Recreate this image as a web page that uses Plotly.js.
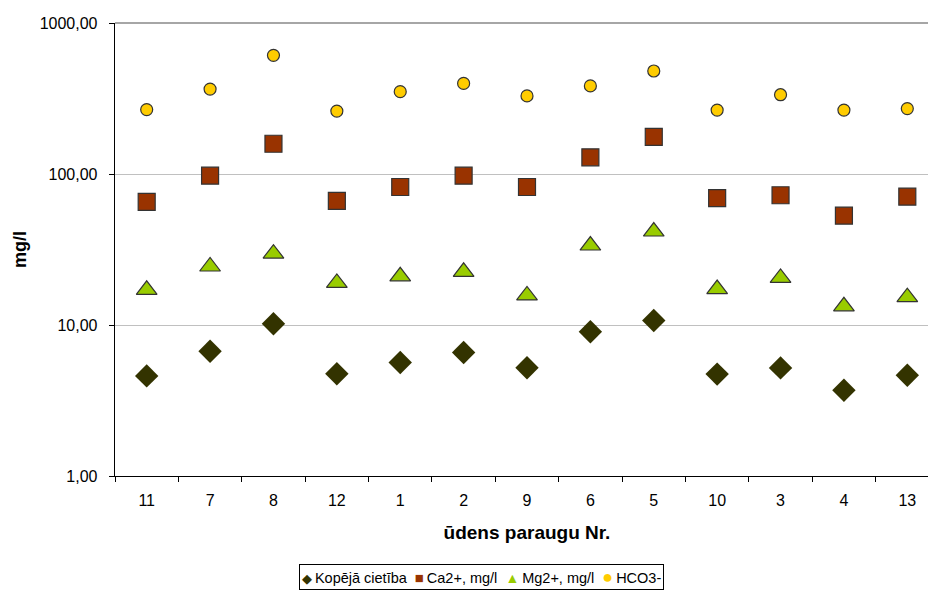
<!DOCTYPE html>
<html>
<head>
<meta charset="utf-8">
<script src="https://cdn.plot.ly/plotly-3.0.1.min.js"></script>
<style>
html,body{margin:0;padding:0;overflow:hidden;background:#fff;}
#chart{width:950px;height:596px;}
</style>
</head>
<body>
<div id="chart"></div>
<script>
var categories = ['11','7','8','12','1','2','9','6','5','10','3','4','13'];
var kopejaCietiba = [4.6, 6.7, 10.2, 4.76, 5.64, 6.58, 5.21, 9.03, 10.7, 4.73, 5.2, 3.7, 4.65];
var ca2 = [65.3, 97.5, 158.6, 66.3, 82, 97.5, 82, 129, 176, 69.3, 72.3, 53, 70.8];
var mg2 = [17.1, 24.4, 29.7, 19, 21, 22.5, 15.7, 33.6, 41.6, 17.3, 20.5, 13.3, 15.3];
var hco3 = [267, 365, 611, 261, 351, 398, 329, 383, 481, 265, 335, 265, 271];
var seriesNames = ['Kopējā cietība', 'Ca2+, mg/l', 'Mg2+, mg/l', 'HCO3-'];
var yTickVals = [1, 10, 100, 1000];
var yTickText = ['1,00', '10,00', '100,00', '1000,00'];

var FONT = 'Liberation Sans, Arial, sans-serif';

var styles = [
  {symbol: 'diamond', size: 18, color: '#333300', line: {color: '#333300', width: 0}, glyph: '\u25C6', gsize: 13},
  {symbol: 'square', size: 17, color: '#993300', line: {color: '#333333', width: 1.2}, glyph: '\u25A0', gsize: 15},
  {symbol: 'triangle-up', size: 18, color: '#99CC00', line: {color: '#333333', width: 1.2}, glyph: '\u25B2', gsize: 14},
  {symbol: 'circle', size: 12, color: '#FFCC00', line: {color: '#333333', width: 1.2}, glyph: '\u25CF', gsize: 18}
];
var seriesData = [kopejaCietiba, ca2, mg2, hco3];

var traces = seriesData.map(function (vals, i) {
  var s = styles[i];
  return {
    type: 'scatter', mode: 'markers', x: categories, y: vals, name: seriesNames[i],
    showlegend: false, cliponaxis: false,
    marker: {symbol: s.symbol, size: s.size, color: s.color, line: s.line}
  };
});

// legend drawn as one boxed line of text built from the series names
var legendText = seriesNames.map(function (name, i) {
  var s = styles[i];
  return '<span style="color:' + s.color + ';font-size:' + s.gsize + 'px">' + s.glyph + '</span>\u2009' + name;
}).join('\u00a0\u00a0');

var layout = {
  width: 950, height: 596,
  margin: {l: 115, r: 11, t: 23, b: 120, autoexpand: false},
  paper_bgcolor: '#ffffff', plot_bgcolor: '#ffffff',
  font: {family: FONT, color: '#000000', size: 16},
  showlegend: false,
  xaxis: {
    type: 'category', categoryorder: 'array', categoryarray: categories,
    range: [-0.5, categories.length - 0.5],
    showline: true, linecolor: '#000000', linewidth: 1.3,
    ticks: 'outside', tickson: 'boundaries', ticklen: 5, tickcolor: '#000', tickwidth: 1,
    showgrid: false, zeroline: false,
    tickfont: {family: FONT, size: 16},
    ticklabelstandoff: 9,
    title: {text: 'ūdens paraugu Nr.', font: {family: FONT, size: 19, weight: 'bold'}, standoff: 18}
  },
  yaxis: {
    type: 'log', range: [0, 3],
    tickvals: yTickVals, ticktext: yTickText,
    showline: true, linecolor: '#000000', linewidth: 1.3,
    ticks: 'outside', ticklen: 5, tickcolor: '#000', tickwidth: 1,
    showgrid: true, gridcolor: '#c0c0c0', gridwidth: 1, zeroline: false,
    tickfont: {family: FONT, size: 16},
    ticklabelstandoff: 8,
    title: {text: 'mg/l', font: {family: FONT, size: 18, weight: 'bold'}, standoff: 8}
  },
  annotations: [
    {xref: 'paper', yref: 'paper', x: 0.445, y: -0.222, xanchor: 'center', yanchor: 'middle',
     showarrow: false, text: legendText, font: {family: FONT, size: 14.5, color: '#000'},
     bordercolor: '#000000', borderwidth: 1, borderpad: 2, bgcolor: '#ffffff'}
  ],
  shapes: [
    {type: 'line', xref: 'paper', yref: 'paper', x0: 0, x1: 1, y0: 1, y1: 1,
     line: {color: '#888888', width: 1.3}, layer: 'below'}
  ]
};

Plotly.newPlot('chart', traces, layout, {displayModeBar: false, staticPlot: true});
</script>
</body>
</html>
